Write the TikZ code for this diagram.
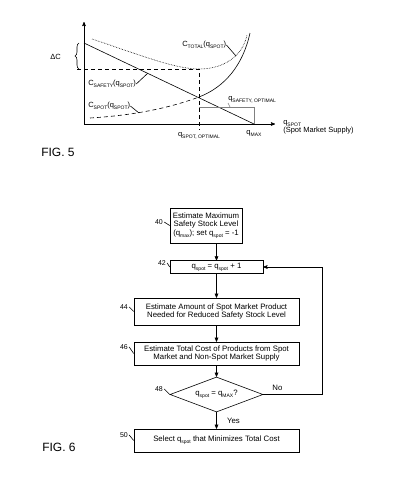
\documentclass[tikz,border=0pt]{standalone}
\usepackage{fontspec}
\setmainfont{Liberation Sans}
\usetikzlibrary{arrows,positioning,shapes.geometric,decorations.pathreplacing}

\newcommand{\lowsub}[1]{\raisebox{-0.45ex}{\fontsize{5}{5}\selectfont #1}}

\begin{document}
\begin{tikzpicture}[x=1pt,y=-1pt,>=stealth',line width=0.6pt,
  font=\fontsize{7.8}{8.6}\selectfont,
  flow box/.style={draw,align=center,inner sep=0pt},
  ref label/.style={font=\fontsize{7}{8}\selectfont,inner sep=1pt},
  curve label/.style={font=\fontsize{7.5}{8}\selectfont,inner sep=0pt,anchor=west},
  fig label/.style={font=\fontsize{12}{14}\selectfont}]

  \useasboundingbox (0,0) rectangle (400,483);

  % FIG. 5 -- cost curves
  \coordinate (O) at (84,124);
  \coordinate (ytop) at (84,22);
  \coordinate (xend) at (275,124);
  \coordinate (s0) at (84,43);
  \coordinate (qmax) at (254,124);
  \coordinate (opt) at (199,97);
  \coordinate (tmin) at (199,69);

  \draw[->] (O) -- (ytop);
  \draw[->] (O) -- (xend);
  \draw (s0) -- (qmax);
  \draw[dash pattern=on 4pt off 3pt] (90,118) .. controls (140,115) and (175,106) .. (opt);
  \draw (opt) .. controls (225,87) and (243,65) .. (250,33);
  \draw[densely dotted] (92,39) .. controls (140,55) and (175,69) .. (tmin)
    .. controls (225,69) and (243,55) .. (247,35);
  \draw[dash pattern=on 4pt off 3pt] (77,69) -- (tmin) -- (199,130);
  \draw[decorate,decoration={brace,amplitude=4pt}] (79,69) -- (79,43);
  \draw[gray] (opt |- 0,107) -- (254,107) -- (qmax);
  \draw[gray] (228,103) -- (230,107);

  \node[curve label] (dC) at (50,57) {ΔC};
  \node[curve label] (ctot) at (182,45) {C\lowsub{TOTAL}(q\lowsub{SPOT})};
  \node[curve label] (csaf) at (88,84) {C\lowsub{SAFETY}(q\lowsub{SPOT})};
  \node[curve label] (cspot) at (88,106) {C\lowsub{SPOT}(q\lowsub{SPOT})};
  \node[curve label] (qsaf) at (228,100) {q\lowsub{SAFETY, OPTIMAL}};
  \node[curve label,anchor=north] (qopt) at (199,132) {q\lowsub{SPOT, OPTIMAL}};
  \node[curve label,anchor=north] (qm) at (254,130) {q\lowsub{MAX}};
  \node[curve label,align=left] (qs) at (283,127) {q\lowsub{SPOT}\\(Spot Market Supply)};

  \draw (ctot.east) -- (236,56);
  \draw (csaf.east) -- (148,73);
  \draw (cspot.east) -- (139,113);

  \node[fig label] (fig5) at (58,152) {FIG. 5};

  % FIG. 6 -- flow chart
  \node[flow box,minimum width=72pt,minimum height=35pt] (40) at (206,225.5)
    {Estimate Maximum\\Safety Stock Level\\(q\lowsub{max}); set q\lowsub{spot} = -1};
  \node[flow box,minimum width=93pt,minimum height=12.6pt] (42) at (216.5,267)
    {q\lowsub{spot} = q\lowsub{spot} + 1};
  \node[flow box,minimum width=165pt,minimum height=27pt] (44) at (216.5,311.5)
    {Estimate Amount of Spot Market Product\\Needed for Reduced Safety Stock Level};
  \node[flow box,minimum width=165pt,minimum height=23pt] (46) at (216.5,353.5)
    {Estimate Total Cost of Products from Spot\\Market and Non-Spot Market Supply};
  \node[diamond,draw,aspect=2.66,inner sep=0pt,minimum width=93pt,minimum height=35pt]
    (48) at (216.5,394.5) {q\lowsub{spot} = q\lowsub{MAX}?};
  \node[flow box,minimum width=165pt,minimum height=23pt] (50) at (216.5,440.5)
    {Select q\lowsub{spot} that Minimizes Total Cost};

  \path[->]
    (40.south -| 42.north) edge (42.north)
    (42) edge (44)
    (44) edge (46)
    (46) edge (48)
    (48) edge node[right=7pt] {Yes} (50);
  \draw[->] (48.east) -- node[above,pos=0.24] {No} ++(59,0) |- (42.east);

  \foreach \n/\x/\y in {40/159/222, 42/162/263, 44/124/307, 46/124/347, 48/159/389, 50/124/435} {
    \node[ref label] (l\n) at (\x,\y) {\n};
    \draw (l\n.east) -- (\n.west);
  }

  \node[fig label] (fig6) at (59,447) {FIG. 6};

\end{tikzpicture}
\end{document}
